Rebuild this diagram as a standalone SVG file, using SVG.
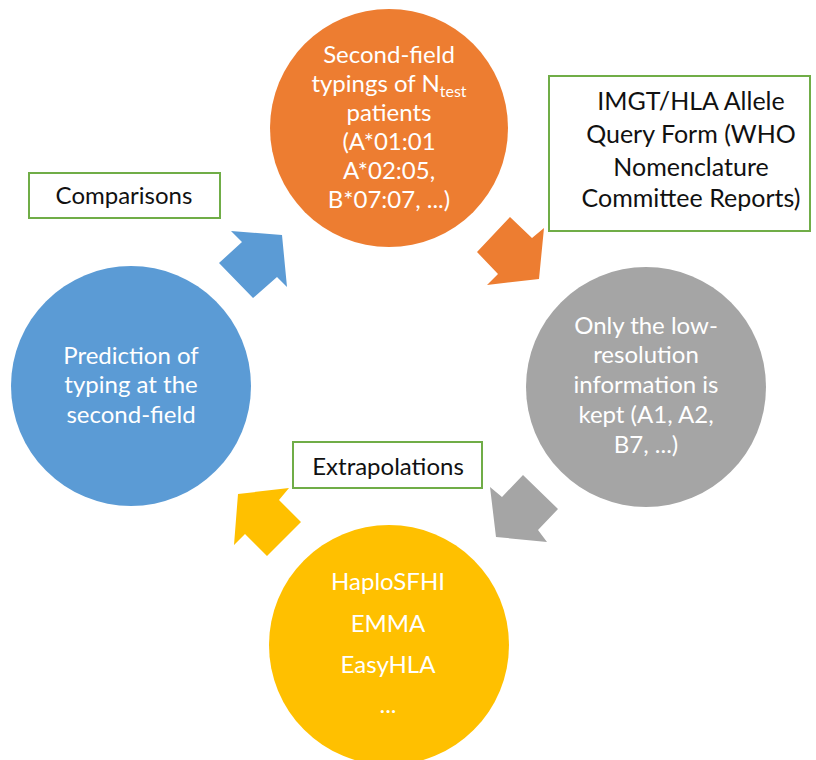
<svg xmlns="http://www.w3.org/2000/svg" width="816" height="760" viewBox="0 0 816 760">
<style>
.ct{font-family:Lato,"Liberation Sans",sans-serif;font-size:24px;fill:#fff;text-anchor:middle}
.bt{font-family:Lato,"Liberation Sans",sans-serif;font-size:24px;fill:#111;text-anchor:middle}
.bl{font-size:25px}
.box{fill:#fff;stroke:#70AD47;stroke-width:2}
</style>
<rect width="816" height="760" fill="#fff"/>
<g id="connectors">
<polygon points="231,231 242,242 219,263 253,298 277,277 287,287 282,235" fill="#5B9BD5"/>
<polygon points="510,217 532,238 544,228 539,279 487,285 498,274 477,252" fill="#ED7D31"/>
<polygon points="523,475 558,509 538,530 547,542 496,537 490,487 502,497" fill="#A5A5A5"/>
<polygon points="238,494 289,488 279,500 301,522 267,556 245,534 234,545" fill="#FFC000"/>
</g>
<g id="node-orange">
<circle cx="389" cy="128" r="119" fill="#ED7D31"/>
<text class="ct" x="389" y="63">Second-field</text>
<text class="ct" x="389" y="92">typings of N<tspan font-size="16" dy="5">test</tspan></text>
<text class="ct" x="389" y="121">patients</text>
<text class="ct" x="389" y="150">(A*01:01</text>
<text class="ct" x="389" y="179">A*02:05,</text>
<text class="ct" x="389" y="208">B*07:07, ...)</text>
</g>
<g id="node-gray">
<circle cx="646" cy="387" r="120" fill="#A5A5A5"/>
<text class="ct" x="646" y="334">Only the low-</text>
<text class="ct" x="646" y="363">resolution</text>
<text class="ct" x="646" y="393">information is</text>
<text class="ct" x="646" y="423">kept (A1, A2,</text>
<text class="ct" x="646" y="453">B7, ...)</text>
</g>
<g id="node-yellow">
<circle cx="389" cy="645" r="120" fill="#FFC000"/>
<text class="ct" x="388" y="590">HaploSFHI</text>
<text class="ct" x="388" y="632">EMMA</text>
<text class="ct" x="388" y="673">EasyHLA</text>
<text class="ct" x="388" y="713">...</text>
</g>
<g id="node-blue">
<circle cx="131" cy="386" r="120" fill="#5B9BD5"/>
<text class="ct" x="131" y="364">Prediction of</text>
<text class="ct" x="131" y="393">typing at the</text>
<text class="ct" x="131" y="423">second-field</text>
</g>
<g id="label-imgt">
<rect class="box" x="549" y="76" width="261" height="155"/>
<text class="bt bl" x="691" y="110">IMGT/HLA Allele</text>
<text class="bt bl" x="691" y="143">Query Form (WHO</text>
<text class="bt bl" x="691" y="176">Nomenclature</text>
<text class="bt bl" x="691" y="207">Committee Reports)</text>
</g>
<g id="label-comparisons">
<rect class="box" x="29" y="173" width="191" height="45"/>
<text class="bt" x="124" y="204">Comparisons</text>
</g>
<g id="label-extrapolations">
<rect class="box" x="293" y="442" width="189" height="46"/>
<text class="bt" x="388" y="475">Extrapolations</text>
</g>
</svg>
